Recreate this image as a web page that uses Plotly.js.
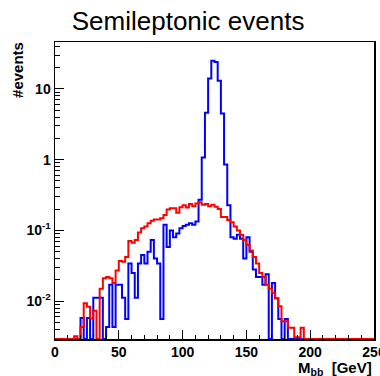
<!DOCTYPE html>
<html>
<head>
<meta charset="utf-8">
<script src="https://cdn.plot.ly/plotly-3.0.1.min.js"></script>
<style>html,body{margin:0;padding:0;background:#fff;}#chart{width:380px;height:376px;}</style>
</head>
<body>
<div id="chart"></div>
<script>
// Histogram binning: 100 bins of 2.5 GeV from 0 to 250 GeV
const binLow = 0;
const binWidth = 2.5;

// Blue histogram (bin contents, #events)
const blueCounts = [
  0, 0, 0, 0, 0, 0, 0, 0, 0.0058, 0,
  0.0058, 0, 0.0112, 0.0112, 0.0112, 0, 0.0043, 0.017, 0.0043, 0.017,
  0.017, 0.0112, 0.0056, 0.034, 0.025, 0.0112, 0.034, 0.045, 0.034, 0.05,
  0.073, 0.04, 0.034, 0.0056, 0.12, 0.058, 0.1, 0.08, 0.09, 0.107,
  0.115, 0.12, 0.126, 0.12, 0.133, 0.27, 1.07, 4.6, 14, 25,
  24, 13, 4.5, 0.85, 0.226, 0.08, 0.076, 0.087, 0.076, 0.04,
  0.08, 0.05, 0.028, 0.022, 0.022, 0.017, 0.024, 0, 0.018, 0.011,
  0.0056, 0, 0.0056, 0, 0, 0, 0, 0, 0, 0,
  0, 0, 0, 0, 0, 0, 0, 0, 0, 0,
  0, 0, 0, 0, 0, 0, 0, 0, 0, 0
];

// Red histogram (bin contents, #events)
const redCounts = [
  0, 0, 0, 0, 0, 0, 0.0032, 0, 0.0043, 0.0093,
  0.0083, 0.0057, 0.0073, 0, 0.015, 0.021, 0.022, 0.021, 0.018, 0.027,
  0.037, 0.036, 0.042, 0.071, 0.067, 0.073, 0.093, 0.107, 0.113, 0.126,
  0.137, 0.143, 0.143, 0.148, 0.165, 0.198, 0.205, 0.205, 0.178, 0.212,
  0.226, 0.21, 0.235, 0.22, 0.24, 0.25, 0.23, 0.235, 0.22, 0.23,
  0.215, 0.2, 0.155, 0.155, 0.14, 0.13, 0.113, 0.1, 0.086, 0.073,
  0.062, 0.052, 0.042, 0.034, 0.025, 0.022, 0.017, 0.015, 0.013, 0.011,
  0.0085, 0.0052, 0.0052, 0.0042, 0.0042, 0.0031, 0.0031, 0.0042, 0, 0,
  0, 0, 0, 0, 0, 0, 0, 0, 0, 0,
  0, 0, 0, 0, 0, 0, 0, 0, 0, 0
];

// Axis tick labels
const xTickVals = [0, 50, 100, 150, 200, 250];
const xTickText = ['0', '50', '100', '150', '200', '250'];
const yTickVals = [0.01, 0.1, 1, 10];
const yTickText = ['10<sup>-2</sup>', '10<sup>-1</sup>', '1', '10'];

const titleText = 'Semileptonic events';
const xTitleText = 'M<sub>bb</sub>\u00a0\u00a0[GeV]';
const yTitleText = '#events';

// ---- build ----
const yRange = [-2.535, 1.662];
const yFloor = Math.pow(10, yRange[0]);

function stepTrace(counts, color) {
  const xs = [], ys = [];
  for (let i = 0; i < counts.length; i++) {
    xs.push(binLow + i * binWidth);
    ys.push(counts[i] > yFloor ? counts[i] : yFloor);
  }
  xs.push(binLow + counts.length * binWidth);
  ys.push(ys[ys.length - 1]);
  return {x: xs, y: ys, type: 'scatter', mode: 'lines',
          line: {shape: 'hv', color: color, width: 2}, hoverinfo: 'skip'};
}

const xMinor = [];
for (let v = 10; v < 250; v += 10) if (v % 50 !== 0) xMinor.push(v);
const yMinor = [];
for (let k = -3; k <= 1; k++) for (let m = 2; m <= 9; m++) yMinor.push(m * Math.pow(10, k));

const fontFam = '"Liberation Sans", Arial, Helvetica, sans-serif';
const tickFont = {family: fontFam, size: 14, color: '#000', weight: 'bold'};

const layout = {
  width: 380, height: 376,
  margin: {l: 55, r: 6, t: 42, b: 37, pad: 0},
  paper_bgcolor: '#fff', plot_bgcolor: '#fff',
  showlegend: false,
  title: {text: titleText, font: {family: fontFam, size: 26, color: '#000'},
          xref: 'container', x: 0.495, xanchor: 'center',
          yref: 'container', y: 0.944, yanchor: 'middle'},
  xaxis: {range: [0, 250], tickmode: 'array', tickvals: xTickVals, ticktext: xTickText,
          ticks: 'inside', ticklen: 9, tickwidth: 1, tickcolor: '#000',
          ticklabeloverflow: 'allow',
          minor: {tickmode: 'array', tickvals: xMinor, ticks: 'inside', ticklen: 4.5, tickwidth: 1, tickcolor: '#000', showgrid: false},
          showline: true, mirror: true, linecolor: '#000', linewidth: 1.5,
          showgrid: false, zeroline: false, tickfont: tickFont, fixedrange: true},
  yaxis: {type: 'log', range: yRange, tickmode: 'array', tickvals: yTickVals, ticktext: yTickText,
          ticks: 'inside', ticklen: 9, tickwidth: 1, tickcolor: '#000',
          minor: {tickmode: 'array', tickvals: yMinor, ticks: 'inside', ticklen: 5, tickwidth: 1, tickcolor: '#000', showgrid: false},
          showline: true, mirror: true, linecolor: '#000', linewidth: 1.5,
          showgrid: false, zeroline: false, tickfont: tickFont, fixedrange: true},
  annotations: [
    {text: xTitleText, xref: 'paper', yref: 'paper', x: 1, y: -0.098,
     xanchor: 'right', yanchor: 'middle', showarrow: false,
     font: {family: fontFam, size: 15, color: '#000', weight: 'bold'}},
    {text: yTitleText, xref: 'paper', yref: 'paper', x: -0.116, y: 0.906,
     xanchor: 'center', yanchor: 'middle', textangle: -90, showarrow: false,
     font: {family: fontFam, size: 15, color: '#000', weight: 'bold'}}
  ]
};

Plotly.newPlot('chart', [stepTrace(blueCounts, '#0000ff'), stepTrace(redCounts, '#ff0000')], layout,
  {displayModeBar: false, staticPlot: true});
</script>
</body>
</html>
